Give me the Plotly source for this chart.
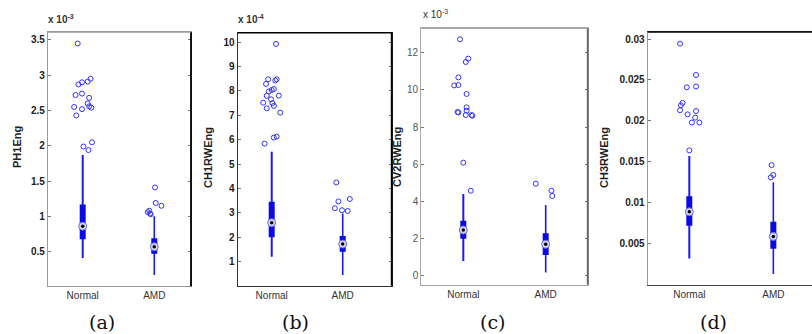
import plotly.graph_objects as go

# ---------------- data (values in displayed axis units) ----------------
categories = ["Normal", "AMD"]
panel_titles = ["PH1Eng", "CH1RWEng", "CV2RWEng", "CH3RWEng"]
panel_letters = ["(a)", "(b)", "(c)", "(d)"]
exponent_labels = ["x 10<sup>-3</sup>", "x 10<sup>-4</sup>", "x 10<sup>-3</sup>", ""]

# whisker low, q1, median, q3, whisker high for [Normal, AMD]
a_stats = [[0.41, 0.675, 0.86, 1.17, 1.87], [0.17, 0.47, 0.57, 0.69, 1.00]]
b_stats = [[1.20, 2.00, 2.60, 3.46, 5.51], [0.45, 1.41, 1.72, 2.05, 2.98]]
c_stats = [[0.81, 2.00, 2.47, 2.97, 4.41], [0.18, 1.13, 1.70, 2.29, 3.81]]
d_stats = [[0.0032, 0.0072, 0.0089, 0.0108, 0.0157], [0.0013, 0.0044, 0.0059, 0.0077, 0.0125]]

# outliers: values and horizontal jitter offsets (category units)
a_norm_out = [3.45, 2.95, 2.91, 2.90, 2.87, 2.74, 2.72, 2.68, 2.60, 2.56, 2.55, 2.52, 2.54, 2.43, 2.05, 1.99, 1.94]
a_norm_jit = [-0.07, 0.11, 0.07, -0.01, -0.06, -0.01, -0.10, 0.09, 0.07, 0.09, -0.12, -0.01, 0.12, -0.09, 0.13, 0.01, 0.08]
a_amd_out = [1.41, 1.19, 1.15, 1.08, 1.06, 1.04, 1.03]
a_amd_jit = [0.01, 0.02, 0.10, -0.07, -0.09, -0.06, -0.05]

b_norm_out = [9.93, 8.48, 8.43, 8.48, 8.29, 8.08, 7.98, 8.04, 7.80, 7.81, 7.66, 7.52, 7.50, 7.39, 7.29, 7.11, 6.13, 6.09, 5.84]
b_norm_jit = [0.06, 0.07, 0.05, -0.05, -0.08, 0.03, -0.04, 0.00, -0.07, 0.10, -0.01, -0.12, 0.01, 0.03, -0.07, 0.12, 0.07, 0.03, -0.10]
b_amd_out = [4.25, 3.47, 3.57, 3.19, 3.11, 3.08]
b_amd_jit = [-0.09, -0.06, 0.10, -0.11, -0.01, 0.07]

c_norm_out = [12.72, 11.68, 11.50, 10.67, 10.24, 10.26, 9.78, 9.06, 8.88, 8.79, 8.81, 8.65, 8.65, 8.61, 6.09, 4.58]
c_norm_jit = [-0.04, 0.06, 0.03, -0.06, -0.11, -0.06, 0.04, 0.04, 0.04, -0.06, -0.07, 0.03, 0.10, 0.11, 0.00, 0.09]
c_amd_out = [4.96, 4.58, 4.30]
c_amd_jit = [-0.12, 0.07, 0.08]

d_norm_out = [0.02943, 0.0256, 0.0241, 0.0242, 0.0222, 0.0219, 0.0213, 0.0208, 0.0212, 0.0204, 0.0198, 0.0198, 0.0164]
d_norm_jit = [-0.11, 0.08, -0.03, 0.08, -0.08, -0.10, -0.11, -0.02, 0.08, 0.07, 0.03, 0.12, 0.00]
d_amd_out = [0.0146, 0.0134, 0.0131]
d_amd_jit = [-0.02, 0.00, -0.03]

# tick values / labels
a_ticks = [0.5, 1, 1.5, 2, 2.5, 3, 3.5]
a_ticktext = ["0.5", "1", "1.5", "2", "2.5", "3", "3.5"]
b_ticks = [1, 2, 3, 4, 5, 6, 7, 8, 9, 10]
b_ticktext = ["1", "2", "3", "4", "5", "6", "7", "8", "9", "10"]
c_ticks = [0, 2, 4, 6, 8, 10, 12]
c_ticktext = ["0", "2", "4", "6", "8", "10", "12"]
d_ticks = [0.005, 0.01, 0.015, 0.02, 0.025, 0.03]
d_ticktext = ["0.005", "0.01", "0.015", "0.02", "0.025", "0.03"]

# ---------------- layout geometry (pixels) ----------------
W, H = 812, 334
panels = [
    dict(stats=a_stats, outs=[(a_norm_out, a_norm_jit), (a_amd_out, a_amd_jit)],
         ticks=a_ticks, ticktext=a_ticktext, px=(48, 191), py=(32, 286.3),
         xr=[0.515, 2.513], yr=[0.009, 3.613], left="#9a9a9a", bottom="#9a9a9a",
         right="#000000", top="#9a9a9a", tickfont=dict(color="#222", size=10, family="Liberation Sans"),
         bold=True, title_xy=(17, 147), exp_xy=(46, 27), mirror=True),
    dict(stats=b_stats, outs=[(b_norm_out, b_norm_jit), (b_amd_out, b_amd_jit)],
         ticks=b_ticks, ticktext=b_ticktext, px=(237.7, 391.7), py=(32.7, 285.7),
         xr=[0.521, 2.69], yr=[0.015, 10.39], left="#333333", bottom="#333333",
         right="#000000", top="#000000", tickfont=dict(color="#222", size=10, family="Liberation Sans"),
         bold=True, title_xy=(208, 158), exp_xy=(236, 27), mirror=True),
    dict(stats=c_stats, outs=[(c_norm_out, c_norm_jit), (c_amd_out, c_amd_jit)],
         ticks=c_ticks, ticktext=c_ticktext, px=(421.3, 587.7), py=(28.3, 284.7),
         xr=[0.49, 2.51], yr=[-0.47, 13.31], left="#a8a8a8", bottom="#a8a8a8",
         right="#666666", top="#a8a8a8", tickfont=dict(color="#555", size=10, family="Liberation Sans"),
         bold=False, title_xy=(397, 157), exp_xy=(421, 22), mirror=True),
    dict(stats=d_stats, outs=[(d_norm_out, d_norm_jit), (d_amd_out, d_amd_jit)],
         ticks=d_ticks, ticktext=d_ticktext, px=(647.7, 812), py=(32, 284.7),
         xr=[0.505, 2.46], yr=[0.0, 0.030855], left="#9a9a9a", bottom="#444444",
         right=None, top="#000000", tickfont=dict(color="#222", size=10, family="Liberation Sans"),
         bold=True, title_xy=(604, 158), exp_xy=None, mirror=False),
]
letter_x = [102, 295, 492, 713]

fig = go.Figure()
layout = dict(width=W, height=H, margin=dict(l=0, r=0, t=0, b=0),
              paper_bgcolor="white", plot_bgcolor="white", showlegend=False)
annotations = []
shapes = []

BLUE = "#1a1aff"
for i, p in enumerate(panels):
    n = "" if i == 0 else str(i + 1)
    xa, ya = "x" + n, "y" + n
    # boxes
    for k, st in enumerate(p["stats"]):
        pos = k + 1
        lo, q1, med, q3, hi = st
        fig.add_trace(go.Scatter(x=[pos, pos], y=[lo, hi], mode="lines",
                                 line=dict(color=BLUE, width=2 if k == 0 else 1.6),
                                 xaxis=xa, yaxis=ya, hoverinfo="skip"))
        fig.add_trace(go.Scatter(x=[pos, pos], y=[q1, q3], mode="lines",
                                 line=dict(color="#0a0ae6", width=6),
                                 xaxis=xa, yaxis=ya, hoverinfo="skip"))
        fig.add_trace(go.Scatter(x=[pos], y=[med], mode="markers",
                                 marker=dict(symbol="circle", size=8, color="#d8d8f0",
                                             line=dict(color="#6a6ae8", width=1)),
                                 xaxis=xa, yaxis=ya, hoverinfo="skip"))
        fig.add_trace(go.Scatter(x=[pos], y=[med], mode="markers",
                                 marker=dict(symbol="circle", size=3.5, color="#000000"),
                                 xaxis=xa, yaxis=ya, hoverinfo="skip"))
        vals, jit = p["outs"][k]
        fig.add_trace(go.Scatter(x=[pos + j for j in jit], y=vals, mode="markers",
                                 marker=dict(symbol="circle-open", size=5, color="#3333ff",
                                             line=dict(width=1, color="#3333ff")),
                                 xaxis=xa, yaxis=ya, hoverinfo="skip"))

    x0, x1 = p["px"]
    ytop, ybot = p["py"]
    layout["xaxis" + n] = dict(domain=[x0 / W, x1 / W], range=p["xr"], anchor=ya,
                               tickvals=[1, 2], ticktext=categories, ticks="",
                               showgrid=False, zeroline=False, showline=True,
                               linecolor=p["bottom"], linewidth=1.2, mirror=True,
                               tickfont=dict(color="#333", size=10, family="Liberation Sans"),
                               fixedrange=True)
    layout["yaxis" + n] = dict(domain=[1 - ybot / H, 1 - ytop / H], range=p["yr"], anchor=xa,
                               tickvals=p["ticks"],
                               ticktext=[("<b>%s</b>" % t) if p["bold"] else t for t in p["ticktext"]],
                               ticks="inside", ticklen=3, tickcolor="#777",
                               showgrid=False, zeroline=False, showline=True,
                               linecolor=p["left"], linewidth=1.2,
                               mirror="ticks" if p["mirror"] else False,
                               tickfont=p["tickfont"], fixedrange=True)
    # coloured frame sides
    if p["right"] is not None:
        shapes.append(dict(type="line", xref=xa + " domain", yref=ya + " domain",
                           x0=1, x1=1, y0=0, y1=1, line=dict(color=p["right"], width=1.8)))
    if p["top"] is not None:
        shapes.append(dict(type="line", xref=xa + " domain", yref=ya + " domain",
                           x0=0, x1=1, y0=1, y1=1, line=dict(color=p["top"], width=1.5)))
    # y title
    tx, ty = p["title_xy"]
    annotations.append(dict(text="<b>%s</b>" % panel_titles[i], x=tx / W, y=1 - ty / H,
                            xref="paper", yref="paper", showarrow=False, textangle=-90,
                            font=dict(size=11, color="#222", family="Liberation Sans"),
                            xanchor="center", yanchor="middle"))
    # exponent label
    if p["exp_xy"] is not None:
        ex, ey = p["exp_xy"]
        annotations.append(dict(text=("<b>%s</b>" % exponent_labels[i]) if p["bold"] else exponent_labels[i],
                                x=ex / W, y=1 - ey / H, xref="paper", yref="paper",
                                showarrow=False, xanchor="left", yanchor="bottom",
                                font=dict(size=10, color="#333", family="Liberation Sans")))
    # panel letter
    annotations.append(dict(text=panel_letters[i], x=letter_x[i] / W, y=1 - 322 / H,
                            xref="paper", yref="paper", showarrow=False,
                            xanchor="center", yanchor="middle",
                            font=dict(size=19, color="#111", family="DejaVu Serif")))

layout["annotations"] = annotations
layout["shapes"] = shapes
fig.update_layout(**layout)
fig.write_html("out.html", config={"displayModeBar": False},
               post_script="document.body.style.margin='0';document.body.style.overflow='hidden';")
